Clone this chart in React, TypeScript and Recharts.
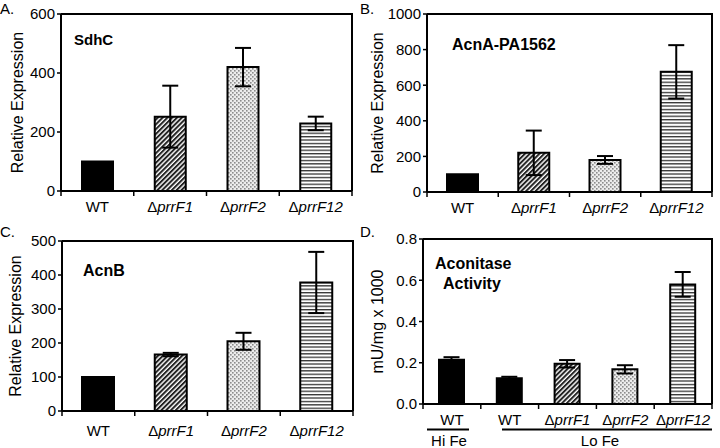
import React from 'react';
import { BarChart, Bar, Cell, XAxis, YAxis, ErrorBar } from 'recharts';

const FONT = '"Liberation Sans", Arial, Helvetica, sans-serif';

const strains = ['WT', 'ΔprrF1', 'ΔprrF2', 'ΔprrF12'];

// A. SdhC
const sdhcValues = [100, 252, 420, 229];
const sdhcErrors = [0, 105, 65, 23];
const sdhcTicks = [0, 200, 400, 600];

// B. AcnA-PA1562
const acnaValues = [100, 220, 180, 675];
const acnaErrors = [0, 125, 22, 150];
const acnaTicks = [0, 200, 400, 600, 800, 1000];

// C. AcnB
const acnbValues = [100, 166, 205, 378];
const acnbErrors = [0, 5, 25, 90];
const acnbTicks = [0, 100, 200, 300, 400, 500];

// D. Aconitase activity (first WT is Hi Fe, rest Lo Fe)
const activityStrains = ['WT', 'WT', 'ΔprrF1', 'ΔprrF2', 'ΔprrF12'];
const activityValues = [0.215, 0.125, 0.195, 0.168, 0.58];
const activityErrors = [0.012, 0.007, 0.018, 0.02, 0.06];
const activityTicks = [0, 0.2, 0.4, 0.6, 0.8];

const toRows = (names: string[], values: number[], errors: number[]) =>
  names.map((name, i) => ({ name, value: values[i], error: errors[i] }));

// panel boxes (page coords) and plot areas inside them
const PANELS = [
  { id: 'a', left: 0, top: 0, l: 61, r: 352, t: 14, b: 191, n: 4 },
  { id: 'b', left: 360, top: 0, l: 67, r: 352, t: 14, b: 192, n: 4 },
  { id: 'c', left: 0, top: 224, l: 62, r: 353, t: 17, b: 187, n: 4 },
  { id: 'd', left: 360, top: 224, l: 63, r: 352, t: 15, b: 180, n: 5 },
];

const StrainTick = ({ x, y, payload, dy }: any) => {
  const label = String(payload.value);
  const delta = label.startsWith('Δ');
  return (
    <text x={x} y={y + dy} textAnchor="middle" fontSize={15} fontFamily={FONT} fill="#000">
      {delta ? (
        <>
          <tspan>Δ</tspan>
          <tspan fontStyle="italic">{label.slice(1)}</tspan>
        </>
      ) : (
        label
      )}
    </text>
  );
};

function Patterns({ prefix }: { prefix: string }) {
  return (
    <defs>
      <pattern id={`${prefix}-diag`} width={3.4} height={3.4} patternUnits="userSpaceOnUse" patternTransform="rotate(45)">
        <rect width={3.4} height={3.4} fill="#fff" />
        <rect width={2} height={3.4} fill="#222" />
      </pattern>
      <pattern id={`${prefix}-dots`} width={4} height={4} patternUnits="userSpaceOnUse">
        <rect width={4} height={4} fill="#ececec" />
        <rect width={1.6} height={1.6} fill="#8c8c8c" />
        <rect x={2} y={2} width={1.6} height={1.6} fill="#8c8c8c" />
      </pattern>
      <pattern id={`${prefix}-horiz`} width={4} height={3.4} patternUnits="userSpaceOnUse">
        <rect width={4} height={3.4} fill="#fff" />
        <rect width={4} height={1.3} fill="#333" />
      </pattern>
    </defs>
  );
}

interface PanelProps {
  idx: number;
  rows: { name: string; value: number; error: number }[];
  fills: string[];
  yTicks: number[];
  yFmt?: (v: number) => string;
  yLabel: string;
  labelOffset: number;
  tickDy: number;
  barSize: number;
}

function Panel({ idx, rows, fills, yTicks, yFmt, yLabel, labelOffset, tickDy, barSize }: PanelProps) {
  const W = 360;
  const H = 224;
  const p = PANELS[idx];
  return (
    <div style={{ position: 'absolute', left: p.left, top: p.top, width: W, height: H }}>
      <BarChart
        width={W}
        height={H}
        data={rows}
        margin={{ top: p.t, right: W - p.r, bottom: 0, left: 0 }}
      >
        <Patterns prefix={p.id} />
        <XAxis
          xAxisId="main"
          dataKey="name"
          height={H - p.b}
          tickLine={false}
          tickSize={0}
          tickMargin={0}
          axisLine={{ stroke: '#000', strokeWidth: 2 }}
          tick={<StrainTick dy={tickDy} />}
          interval={0}
        />
        <YAxis
          yAxisId="left"
          width={p.l}
          domain={[0, yTicks[yTicks.length - 1]]}
          ticks={yTicks}
          tickFormatter={yFmt}
          tick={{ fill: '#000', fontSize: 15, fontFamily: FONT }}
          tickLine={{ stroke: '#000', strokeWidth: 1.5 }}
          tickSize={4}
          tickMargin={2}
          axisLine={{ stroke: '#000', strokeWidth: 2 }}
          label={{
            value: yLabel,
            angle: -90,
            position: 'insideLeft',
            offset: labelOffset,
            style: { textAnchor: 'middle', fontSize: 16, fontFamily: FONT, fill: '#000' },
          }}
        />
        <Bar
          dataKey="value"
          xAxisId="main"
          yAxisId="left"
          barSize={barSize}
          stroke="#000"
          strokeWidth={2}
          isAnimationActive={false}
        >
          {rows.map((r, i) => (
            <Cell key={`${r.name}-${i}`} fill={fills[i]} />
          ))}
          <ErrorBar dataKey="error" width={8} stroke="#000" strokeWidth={2} direction="y" isAnimationActive={false} />
        </Bar>
      </BarChart>
    </div>
  );
}

export default function App() {
  const fills4 = (p: string) => ['#000', `url(#${p}-diag)`, `url(#${p}-dots)`, `url(#${p}-horiz)`];
  const fills5 = (p: string) => ['#000', '#000', `url(#${p}-diag)`, `url(#${p}-dots)`, `url(#${p}-horiz)`];

  // top/right edges of each plot box plus the ticks on category boundaries
  const frameLines: React.ReactNode[] = [];
  PANELS.forEach((p) => {
    const l = p.left + p.l;
    const r = p.left + p.r;
    const t = p.top + p.t;
    const b = p.top + p.b;
    const band = (r - l) / p.n;
    frameLines.push(<line key={`${p.id}-t`} x1={l} x2={r + 1} y1={t} y2={t} stroke="#000" strokeWidth={2} />);
    frameLines.push(<line key={`${p.id}-r`} x1={r} x2={r} y1={t} y2={b} stroke="#000" strokeWidth={2} />);
    for (let i = 0; i <= p.n; i++) {
      const x = l + i * band;
      frameLines.push(<line key={`${p.id}-k${i}`} x1={x} x2={x} y1={b} y2={b + 5} stroke="#000" strokeWidth={1.5} />);
    }
  });

  return (
    <div style={{ position: 'absolute', left: 0, top: 0, width: 720, height: 448, background: '#fff', fontFamily: FONT }}>
      <Panel
        idx={0}
        rows={toRows(strains, sdhcValues, sdhcErrors)}
        fills={fills4('a')}
        yTicks={sdhcTicks}
        yLabel="Relative Expression"
        labelOffset={17}
        tickDy={21}
        barSize={31}
      />
      <Panel
        idx={1}
        rows={toRows(strains, acnaValues, acnaErrors)}
        fills={fills4('b')}
        yTicks={acnaTicks}
        yLabel="Relative Expression"
        labelOffset={17}
        tickDy={21}
        barSize={31}
      />
      <Panel
        idx={2}
        rows={toRows(strains, acnbValues, acnbErrors)}
        fills={fills4('c')}
        yTicks={acnbTicks}
        yLabel="Relative Expression"
        labelOffset={15}
        tickDy={25}
        barSize={32}
      />
      <Panel
        idx={3}
        rows={toRows(activityStrains, activityValues, activityErrors)}
        fills={fills5('d')}
        yTicks={activityTicks}
        yFmt={(v: number) => v.toFixed(1)}
        yLabel="mU/mg x 1000"
        labelOffset={17}
        tickDy={21}
        barSize={25}
      />
      <svg width={720} height={448} style={{ position: 'absolute', left: 0, top: 0, pointerEvents: 'none' }}>
        {frameLines}
        <g fontFamily={FONT} fill="#000">
          <text x={0} y={14} fontSize={15}>A.</text>
          <text x={360} y={14} fontSize={15}>B.</text>
          <text x={0} y={237} fontSize={15}>C.</text>
          <text x={360} y={237} fontSize={15}>D.</text>
          <text x={74} y={45} fontSize={15} fontWeight="bold">SdhC</text>
          <text x={452} y={50} fontSize={16} fontWeight="bold">AcnA-PA1562</text>
          <text x={83} y={276} fontSize={16} fontWeight="bold">AcnB</text>
          <text x={435} y={269} fontSize={16} fontWeight="bold">Aconitase</text>
          <text x={443} y={289} fontSize={16} fontWeight="bold">Activity</text>
          <text x={449} y={446} fontSize={15} textAnchor="middle">Hi Fe</text>
          <text x={600} y={446} fontSize={15} textAnchor="middle">Lo Fe</text>
        </g>
        <line x1={427} x2={469} y1={429.5} y2={429.5} stroke="#000" strokeWidth={2} />
        <line x1={502} x2={712} y1={429.5} y2={429.5} stroke="#000" strokeWidth={2} />
      </svg>
    </div>
  );
}
